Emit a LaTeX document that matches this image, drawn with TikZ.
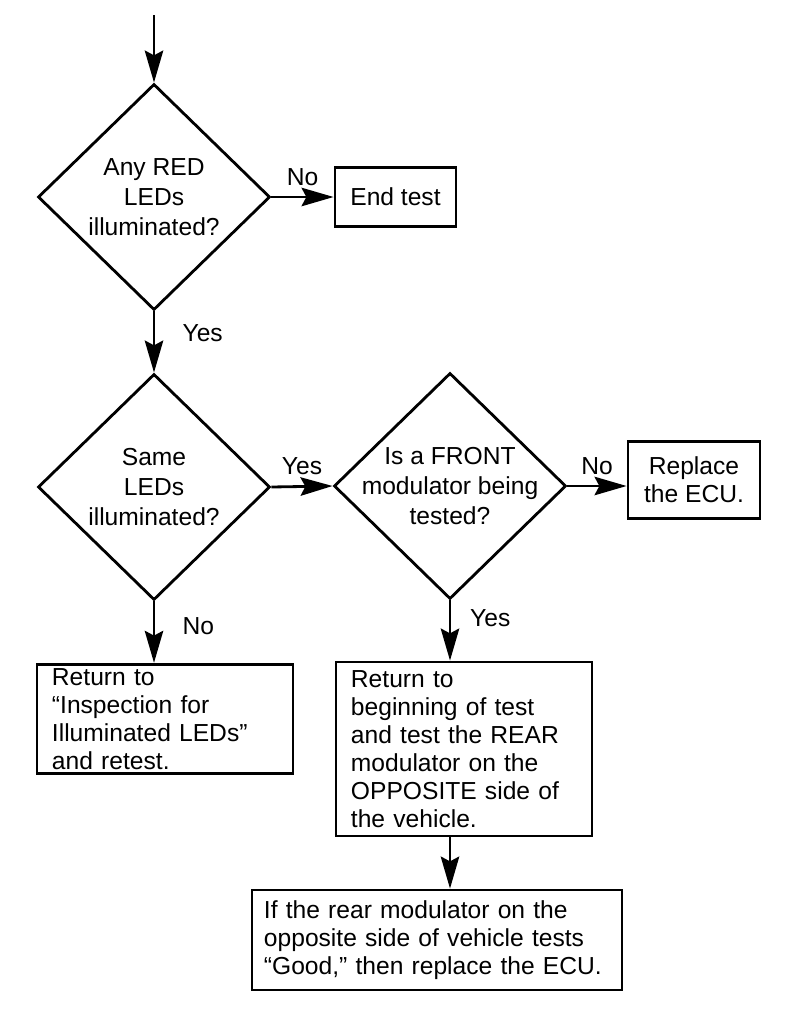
\documentclass[tikz,border=0pt]{standalone}
\usepackage{fontspec}
\setmainfont{Liberation Sans}
\usetikzlibrary{shapes.geometric,arrows.meta}

\tikzset{
  decision/.style={draw,diamond,inner sep=-0.8cm,minimum width=5.8cm,minimum height=5.65cm,align=center,
    font=\fontsize{17.5}{21.5}\selectfont},
  stepbox/.style={draw,rectangle,inner sep=0pt,align=center},
  notebox/.style={draw,rectangle,inner xsep=0.375cm,inner ysep=0.1cm,align=left},
  flow/.style={-{Stealth[length=8mm,width=4.6mm,inset=1.2mm]}}
}

\begin{document}
\begin{tikzpicture}[x=0.025cm,y=-0.025cm,line width=2pt,font=\fontsize{17.5}{20}\selectfont]%
  \useasboundingbox (0,0) rectangle (800,1026);
  \coordinate (start) at (154,15);
  \node[decision] (anyred) at (154,197) {Any RED\\LEDs\\illuminated?};
  \node[stepbox,minimum width=3.025cm,minimum height=1.475cm] (endtest) at (395.5,197) {End test};
  \node[decision] (same) at (154,487) {Same\\LEDs\\illuminated?};
  \node[decision] (front) at (450,486) {Is a FRONT\\modulator being\\tested?};
  \node[stepbox,minimum width=3.3cm,minimum height=1.925cm] (replace) at (694,480) {Replace\\the ECU.};
  \node[notebox,text width=5.65cm,minimum height=2.7cm] (retest) at (165,719)
    {Return to\\``Inspection for\\Illuminated LEDs''\\and retest.};
  \node[notebox,text width=5.65cm,minimum height=4.35cm] (rear) at (464,749)
    {Return to\\beginning of test\\and test the REAR\\modulator on the\\OPPOSITE side of\\the vehicle.};
  \node[notebox,inner xsep=0.3cm,text width=8.65cm,minimum height=2.5cm] (good) at (437,940)
    {If the rear modulator on the\\opposite side of vehicle tests\\``Good,'' then replace the ECU.};
  % connectors
  \draw[flow] (start) -- (anyred.north);
  \draw[flow] (anyred.east) -- node[above=4pt] {No} (endtest.west);
  \draw[flow] (anyred.south) -- node[right=16pt,pos=0.35] {Yes} (same.north);
  \draw[flow] (same.east) -- node[above=4pt] {Yes} (front.west);
  \draw[flow] (front.east) -- node[above=4pt] {No} (front.east -| replace.west);
  \draw[flow] (same.south) -- node[right=16pt,pos=0.4] {No} (same.south |- retest.north);
  \draw[flow] (front.south) -- node[right=10pt,pos=0.3] {Yes} (front.south |- rear.north);
  \draw[flow] (rear.south -| front.south) -- (front.south |- good.north);
\end{tikzpicture}
\end{document}
